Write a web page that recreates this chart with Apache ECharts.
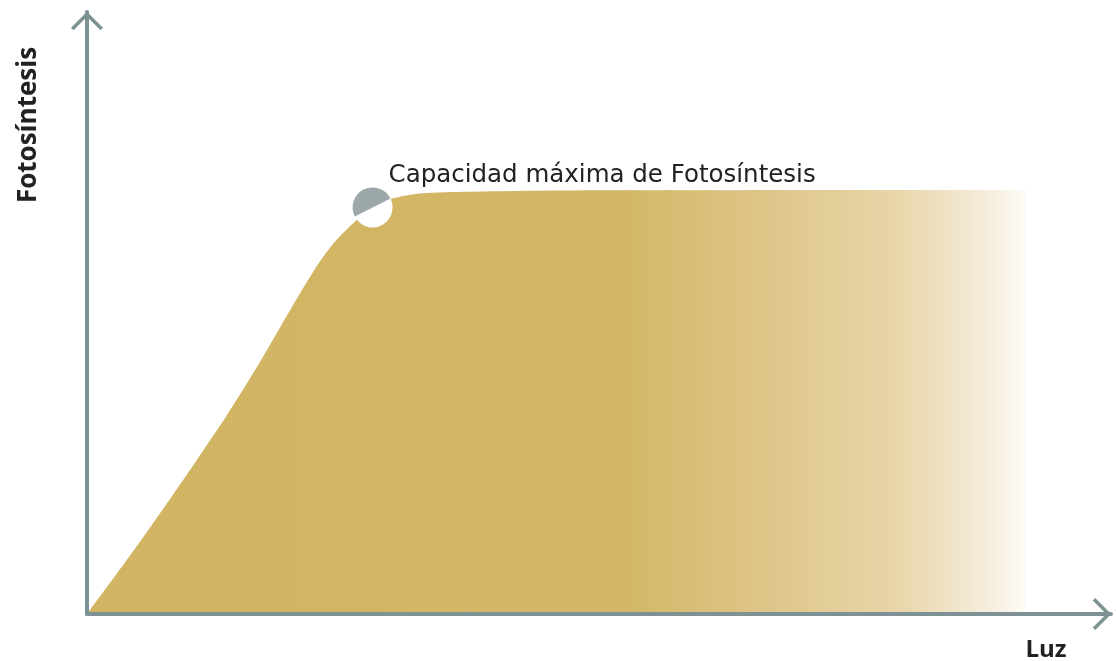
<!DOCTYPE html>
<html>
<head>
<meta charset="utf-8">
<script src="https://cdn.jsdelivr.net/npm/echarts@6/dist/echarts.min.js"></script>
<style>
  html, body { margin: 0; padding: 0; background: #fff; }
  #chart { width: 1116px; height: 661px; }
</style>
</head>
<body>
<div id="chart"></div>
<script>
// Luz (eje X) y fotosíntesis (eje Y)
const luz = [0, 5.2, 10.2, 15.0, 18.5, 21.6, 24.5, 26.5, 28.4, 30.4, 32.5, 35.5, 40.8, 50.4, 100];
const fotosintesis = [0, 15.7, 31.5, 47.3, 59.8, 71.6, 82.2, 88.1, 92.3, 95.9, 98.0, 99.2, 99.6, 99.9, 100];

// punto de capacidad máxima
const puntoMax = [30.4, 95.9];
const etiquetaMax = 'Capacidad máxima de Fotosíntesis';

const ejeX = 'Luz';
const ejeY = 'Fotosíntesis';

const axisColor = '#7e9194';
const font = "'Open Sans', 'Noto Sans', sans-serif";
// flecha abierta (chevron) para el final de los ejes
const chevron = 'path://M16,0 L32,16 L29.5,18.5 L16,5 L2.5,18.5 L0,16 Z';

const chart = echarts.init(document.getElementById('chart'), null, { renderer: 'canvas' });

const axisLine = {
  show: true,
  onZero: true,
  symbol: ['none', chevron],
  symbolSize: [32, 18.5],
  symbolOffset: [0, -9],
  lineStyle: { color: axisColor, width: 4 }
};

const option = {
  backgroundColor: '#fff',
  animation: false,
  grid: { left: 87, right: 5, top: 12, bottom: 47 },
  xAxis: {
    type: 'value',
    min: 0,
    max: 109,
    z: 5,
    axisLine: axisLine,
    axisTick: { show: false },
    axisLabel: { show: false },
    splitLine: { show: false }
  },
  yAxis: {
    type: 'value',
    min: 0,
    max: 142,
    z: 5,
    axisLine: axisLine,
    axisTick: { show: false },
    axisLabel: { show: false },
    splitLine: { show: false }
  },
  graphic: [
    {
      type: 'text',
      x: 29,
      y: 125,
      rotation: Math.PI / 2,
      style: {
        text: ejeY,
        font: 'bold 26px ' + font,
        fill: '#222',
        textAlign: 'center',
        textVerticalAlign: 'middle'
      }
    },
    {
      type: 'text',
      x: 1046,
      y: 650,
      style: {
        text: ejeX,
        font: 'bold 24px ' + font,
        fill: '#222',
        textAlign: 'center',
        textVerticalAlign: 'middle'
      }
    }
  ],
  series: [
    {
      type: 'line',
      data: luz.map((x, i) => [x, fotosintesis[i]]),
      smooth: 0.3,
      showSymbol: false,
      silent: true,
      lineStyle: { width: 0, opacity: 0 },
      areaStyle: {
        opacity: 1,
        color: new echarts.graphic.LinearGradient(0, 0, 1, 0, [
          { offset: 0, color: '#d2b563' },
          { offset: 0.57, color: '#d3b766' },
          { offset: 0.68, color: '#dbc17f' },
          { offset: 0.86, color: '#e8d5a8' },
          { offset: 0.966, color: '#f6efe0' },
          { offset: 1, color: '#fefcf8' }
        ])
      }
    },
    {
      type: 'custom',
      silent: true,
      z: 10,
      data: [puntoMax],
      renderItem: function (params, api) {
        const p = api.coord([api.value(0), api.value(1)]);
        const r = 20;
        const tilt = 0.47;
        return {
          type: 'group',
          children: [
            { type: 'circle', shape: { cx: p[0], cy: p[1], r: r }, style: { fill: '#fff' } },
            {
              type: 'sector',
              shape: {
                cx: p[0], cy: p[1], r0: 0, r: r,
                startAngle: Math.PI - tilt,
                endAngle: 2 * Math.PI - tilt,
                clockwise: true
              },
              style: { fill: '#9ba7a8' }
            },
            {
              type: 'text',
              x: p[0] + 16,
              y: p[1] - 32,
              style: {
                text: etiquetaMax,
                font: "24.5px 'DejaVu Sans', sans-serif",
                fill: '#222',
                textAlign: 'left',
                textVerticalAlign: 'middle'
              }
            }
          ]
        };
      }
    }
  ]
};

chart.setOption(option);
</script>
</body>
</html>
